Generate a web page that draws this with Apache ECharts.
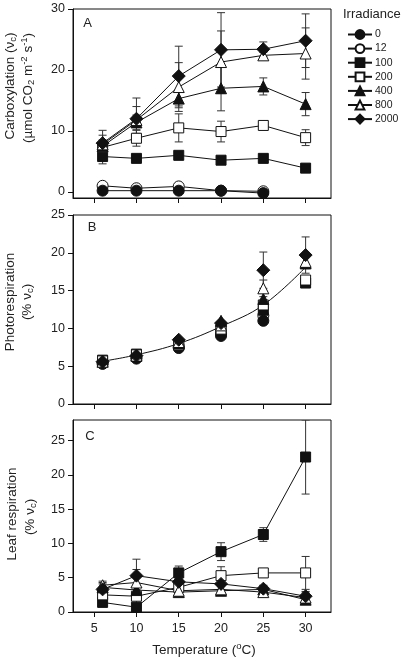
<!DOCTYPE html>
<html><head><meta charset="utf-8">
<script src="https://cdn.jsdelivr.net/npm/echarts@6/dist/echarts.min.js"></script>
<style>html,body{margin:0;padding:0;background:#fff}#c{width:406px;height:661px}</style>
</head><body><div id="c"></div>
<script>
// ---------- data ----------
const temperatures = [6, 10, 15, 20, 25, 30];
const irradianceLevels = ['0', '12', '100', '200', '400', '800', '2000'];
const xTicks = [5, 10, 15, 20, 25, 30];
const yTicksA = [0, 10, 20, 30];
const yTicksB = [0, 5, 10, 15, 20, 25];
const yTicksC = [0, 5, 10, 15, 20, 25];

// Panel A: carboxylation (vc)
const carbA_0    = [0.2, 0.2, 0.2, 0.2, -0.2, null];
const carbA_12   = [1.0, 0.6, 0.9, 0.2, 0.1, null];
const carbA_100  = [5.8, 5.5, 6.0, 5.2, 5.5, 3.9];
const carbA_200  = [7.3, 8.8, 10.5, 9.9, 10.9, 8.9];
const carbA_400  = [7.5, 11.4, 15.3, 17.0, 17.3, 14.4];
const carbA_800  = [7.8, 11.8, 17.2, 21.3, 22.4, 22.7];
const carbA_2000 = [8.0, 12.0, 19.0, 23.3, 23.4, 24.8];
const errA_100  = [1.2, 0.5, 0.5, 0.4, 0.4, 0.4];
const errA_200  = [0.8, 1.3, 2.3, 1.7, 0.6, 1.3];
const errA_400  = [1.0, 1.2, 1.5, 3.7, 1.4, 1.9];
const errA_800  = [1.5, 2.2, 4.0, 5.1, 0.5, 4.2];
const errA_2000 = [2.1, 3.4, 4.9, 6.1, 1.2, 4.4];

// Panel B: photorespiration (% vc)
const photoB_0    = [5.3, 6.0, 7.4, 9.0, 11.0, null];
const photoB_12   = [5.5, 6.2, 7.6, 9.3, 11.7, null];
const photoB_100  = [5.8, 6.6, 7.9, 9.8, 12.4, 16.0];
const photoB_200  = [5.7, 6.5, 7.8, 9.9, 13.1, 16.4];
const photoB_400  = [5.6, 6.4, 8.0, 11.0, 13.9, 18.6];
const photoB_800  = [5.6, 6.4, 8.2, 10.4, 15.3, 18.8];
const photoB_2000 = [5.6, 6.4, 8.5, 10.7, 17.7, 19.7];
const errB_800  = [0, 0, 0, 0, 1.1, 0.9];
const errB_2000 = [0, 0, 0, 0, 2.4, 2.4];
const fitB = [5.65, 6.5, 8.0, 10.25, 13.1, 18.1];

// Panel C: leaf respiration (% vc)
const respC_100  = [1.4, 0.7, 5.7, 8.8, 11.3, 22.6];
const respC_200  = [2.5, 2.3, 3.6, 5.3, 5.7, 5.7];
const respC_400  = [3.6, 3.2, 2.9, 3.1, 3.3, 1.8];
const respC_800  = [3.9, 4.3, 3.1, 3.3, 2.9, 2.1];
const respC_2000 = [3.3, 5.3, 4.4, 4.1, 3.4, 2.3];
const errC_100  = [0.3, 0.3, 1.0, 1.3, 1.0, 5.4];
const errC_200  = [0.6, 1.0, 0.5, 1.3, 0.6, 2.4];
const errC_400  = [0.5, 0.5, 0.6, 0.6, 0.5, 0.6];
const errC_800  = [0.6, 1.9, 0.6, 0.6, 0.5, 0.8];
const errC_2000 = [1.0, 2.4, 0.5, 0.8, 0.5, 0.7];

// ---------- styles ----------
const FONT = '"Liberation Sans", Arial, sans-serif';
const INK = '#111';
const markerShape = {'0':'circle','12':'circle','100':'rect','200':'rect','400':'triangle','800':'triangle','2000':'diamond'};
const markerFilled = {'0':true,'12':false,'100':true,'200':false,'400':true,'800':false,'2000':true};
const markerSize = {circle: 11, rect: 10, triangle: 11, diamond: 13};

function pts(vals) {
  const out = [];
  temperatures.forEach((t, i) => { if (vals[i] !== null && vals[i] !== undefined) out.push([t, vals[i]]); });
  return out;
}
function markerStyle(name) {
  return markerFilled[name]
    ? {color: INK, borderColor: INK, borderWidth: 1, opacity: 1}
    : {color: '#fff', borderColor: INK, borderWidth: 1, opacity: 1};
}
function lineSeries(name, vals, gi, withLine) {
  const shape = markerShape[name];
  return {
    type: withLine ? 'line' : 'scatter', name: name, xAxisIndex: gi, yAxisIndex: gi,
    data: pts(vals), symbol: shape, symbolSize: markerSize[shape],
    itemStyle: markerStyle(name),
    lineStyle: {color: INK, width: 1},
    showSymbol: true, z: 3, emphasis: {disabled: true}, silent: true
  };
}
function errSeries(vals, errs, gi) {
  const data = [];
  temperatures.forEach((t, i) => {
    if (vals[i] !== null && errs[i] > 0) data.push([t, vals[i], errs[i]]);
  });
  return {
    type: 'custom', xAxisIndex: gi, yAxisIndex: gi, data: data, z: 1, silent: true, clip: true,
    renderItem: function (params, api) {
      const x = api.value(0), y = api.value(1), e = api.value(2);
      const top = api.coord([x, y + e]), bot = api.coord([x, y - e]);
      const hw = 4, st = {stroke: '#333', lineWidth: 1};
      return {type: 'group', children: [
        {type: 'line', shape: {x1: top[0], y1: top[1], x2: bot[0], y2: bot[1]}, style: st},
        {type: 'line', shape: {x1: top[0] - hw, y1: top[1], x2: top[0] + hw, y2: top[1]}, style: st},
        {type: 'line', shape: {x1: bot[0] - hw, y1: bot[1], x2: bot[0] + hw, y2: bot[1]}, style: st}
      ]};
    }
  };
}
function xAxis(gi, showLabels) {
  return {
    type: 'value', gridIndex: gi, min: 2.5, max: 33,
    axisLine: {show: true, onZero: false, lineStyle: {color: INK, width: 1}},
    axisTick: {show: true, inside: false, length: 5, customValues: xTicks, lineStyle: {color: INK}},
    axisLabel: {show: showLabels, customValues: xTicks, margin: 10, fontSize: 12.5, color: '#222', fontFamily: FONT},
    splitLine: {show: false}
  };
}
function yAxis(gi, min, max, ticks) {
  return {
    type: 'value', gridIndex: gi, min: min, max: max,
    axisLine: {show: true, onZero: false, lineStyle: {color: INK, width: 1}},
    axisTick: {show: true, inside: false, length: 5, customValues: ticks, lineStyle: {color: INK}},
    axisLabel: {show: true, customValues: ticks, margin: 8, fontSize: 12.5, color: '#222', fontFamily: FONT},
    splitLine: {show: false}
  };
}

const series = [];
// Panel A
const seriesA = {'0': carbA_0, '12': carbA_12, '100': carbA_100, '200': carbA_200, '400': carbA_400, '800': carbA_800, '2000': carbA_2000};
const errA = {'100': errA_100, '200': errA_200, '400': errA_400, '800': errA_800, '2000': errA_2000};
Object.keys(errA).forEach(k => series.push(errSeries(seriesA[k], errA[k], 0)));
['12', '0', '100', '200', '400', '800', '2000'].forEach(k => series.push(lineSeries(k, seriesA[k], 0, true)));
// Panel B
const seriesB = {'0': photoB_0, '12': photoB_12, '100': photoB_100, '200': photoB_200, '400': photoB_400, '800': photoB_800, '2000': photoB_2000};
series.push(errSeries(photoB_800, errB_800, 1));
series.push(errSeries(photoB_2000, errB_2000, 1));
series.push({type: 'line', xAxisIndex: 1, yAxisIndex: 1, data: pts(fitB), smooth: 0.4, symbol: 'none',
  lineStyle: {color: INK, width: 1}, z: 2, silent: true});
['12', '0', '100', '200', '400', '800', '2000'].forEach(k => series.push(lineSeries(k, seriesB[k], 1, false)));
// Panel C
const seriesC = {'100': respC_100, '200': respC_200, '400': respC_400, '800': respC_800, '2000': respC_2000};
const errC = {'100': errC_100, '200': errC_200, '400': errC_400, '800': errC_800, '2000': errC_2000};
Object.keys(errC).forEach(k => series.push(errSeries(seriesC[k], errC[k], 2)));
['100', '200', '400', '800', '2000'].forEach(k => series.push(lineSeries(k, seriesC[k], 2, true)));

const titleStyle = {fontSize: 13.5, fontFamily: FONT, fill: '#222', align: 'center', verticalAlign: 'middle',
  rich: {
    sub: {fontSize: 9.5, fontFamily: FONT, fill: '#222', padding: [6, 0, 0, 0]},
    sup: {fontSize: 9.5, fontFamily: FONT, fill: '#222', padding: [0, 0, 7, 0]}
  }};
function gtext(x, y, text, rot, extra) {
  return {type: 'text', x: x, y: y, rotation: rot || 0, z: 10, silent: true,
    style: Object.assign({}, titleStyle, {text: text}, extra || {})};
}

const gridBase = {left: 73, right: 75, show: true, borderColor: INK, borderWidth: 1, backgroundColor: 'transparent', containLabel: false};
const chart = echarts.init(document.getElementById('c'), null, {renderer: 'canvas'});
chart.setOption({
  animation: false,
  backgroundColor: '#fff',
  grid: [
    Object.assign({}, gridBase, {top: 9, height: 189}),
    Object.assign({}, gridBase, {top: 215, height: 189}),
    Object.assign({}, gridBase, {top: 420, height: 192})
  ],
  xAxis: [xAxis(0, false), xAxis(1, false), xAxis(2, true)],
  yAxis: [yAxis(0, -1, 30, yTicksA), yAxis(1, 0, 25, yTicksB), yAxis(2, 0, 28, yTicksC)],
  legend: {
    data: irradianceLevels, orient: 'vertical', left: 342, top: 24,
    itemWidth: 24, itemHeight: 11, itemGap: 3.1, selectedMode: false,
    textStyle: {fontSize: 10.5, fontFamily: FONT, color: '#222', padding: [0, 0, 0, -2]}
  },
  graphic: [
    gtext(343, 14, 'Irradiance', 0, {align: 'left', fontSize: 13}),
    gtext(87.5, 23, 'A', 0, {fontSize: 13}),
    gtext(92, 227, 'B', 0, {fontSize: 13}),
    gtext(90, 436, 'C', 0, {fontSize: 13}),
    gtext(10, 86, 'Carboxylation (ν{sub|c})', Math.PI / 2),
    gtext(28, 88, '(µmol CO{sub|2} m{sup|-2} s{sup|-1})', Math.PI / 2),
    gtext(10, 302, 'Photorespiration', Math.PI / 2),
    gtext(27, 302, '(% ν{sub|c})', Math.PI / 2),
    gtext(12.5, 514, 'Leaf respiration', Math.PI / 2),
    gtext(30, 517, '(% ν{sub|c})', Math.PI / 2),
    gtext(204, 650, 'Temperature ({sup|o}C)', 0)
  ],
  series: series
});
</script>
</body></html>
